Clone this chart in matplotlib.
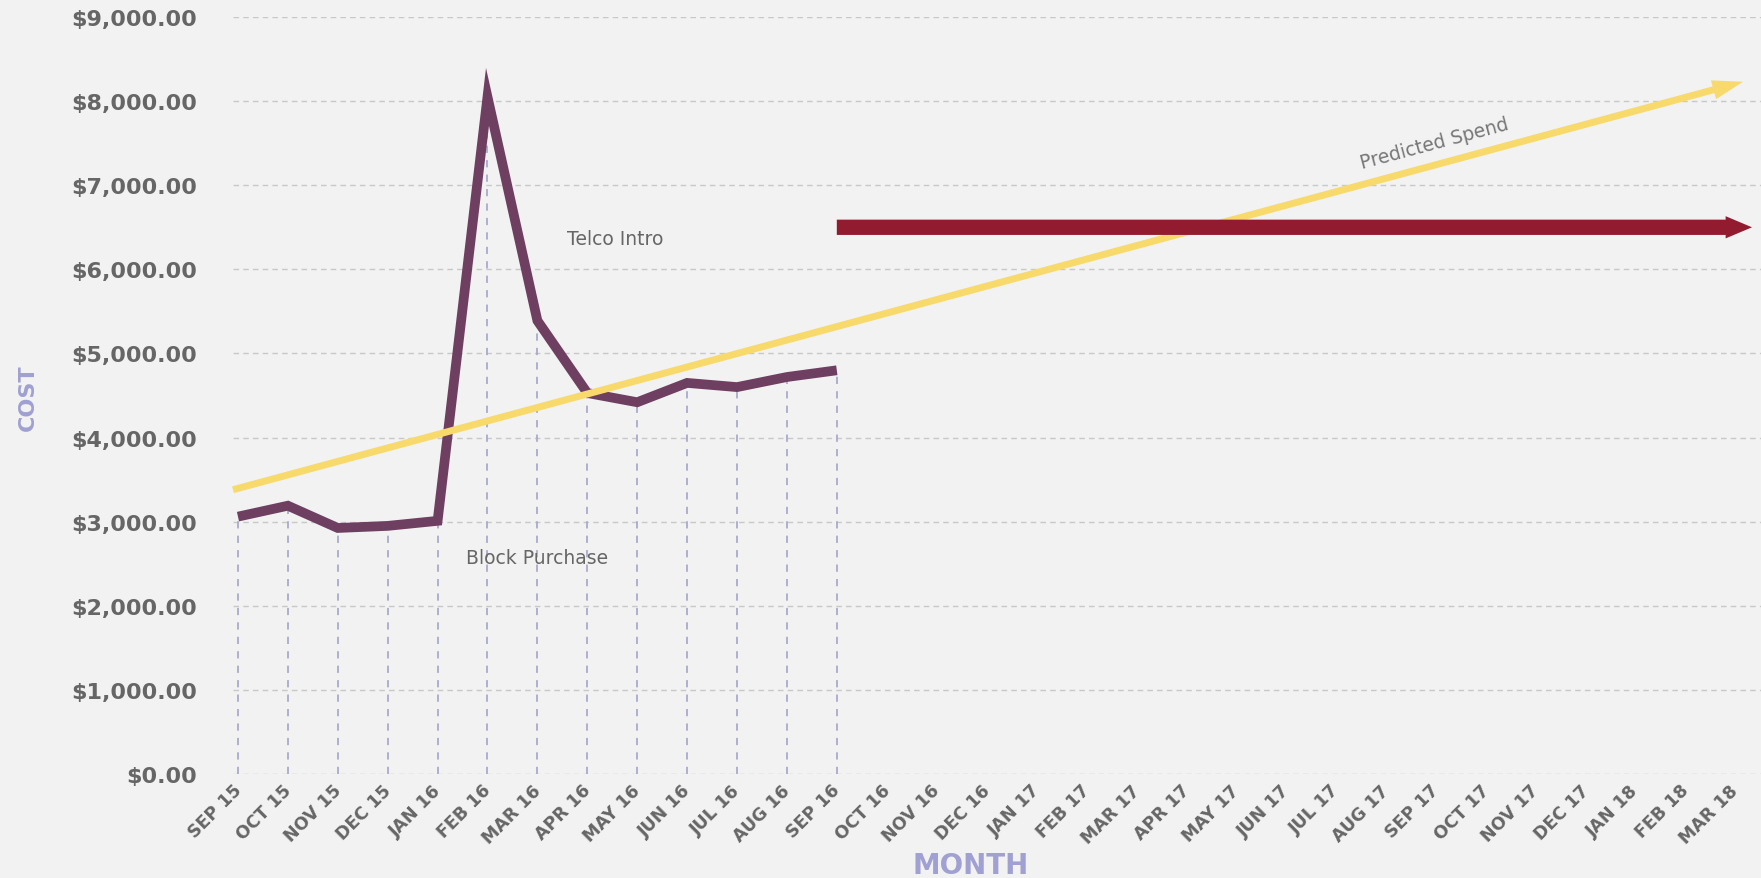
import matplotlib
matplotlib.use("Agg")
import matplotlib.pyplot as plt
import matplotlib.transforms as mtransforms
from matplotlib.ticker import FuncFormatter

# monthly cost, Sep 15 .. Sep 16
months = ["SEP 15", "OCT 15", "NOV 15", "DEC 15", "JAN 16", "FEB 16", "MAR 16",
          "APR 16", "MAY 16", "JUN 16", "JUL 16", "AUG 16", "SEP 16", "OCT 16",
          "NOV 16", "DEC 16", "JAN 17", "FEB 17", "MAR 17", "APR 17", "MAY 17",
          "JUN 17", "JUL 17", "AUG 17", "SEP 17", "OCT 17", "NOV 17", "DEC 17",
          "JAN 18", "FEB 18", "MAR 18"]
cost = [3060, 3190, 2925, 2950, 3010, 8050, 5390, 4530, 4420, 4650, 4600, 4720, 4800]

# predicted spend trend (start / end)
pred_x = [-0.1, 30.16]
pred_y = [3380, 8230]

# flat level after Sep 16
level_x = [12, 30.34]
level_y = [6500, 6500]

yticks = [0, 1000, 2000, 3000, 4000, 5000, 6000, 7000, 8000, 9000]

bg = "#f2f2f2"
purple = "#6f3f62"
yellow = "#f8d96c"
red = "#931b2f"
lavender = "#a0a0d2"
grey = "#666666"

fig = plt.figure(figsize=(17.61, 8.79), dpi=100, facecolor=bg)
ax = fig.add_axes([0.1323, 0.1183, 1 - 0.1323, 0.9795 - 0.1183])
ax.set_facecolor(bg)

x = list(range(len(cost)))

# drop lines under each point
ax.vlines(x, 0, cost, colors="#a9a9cc", linestyles=(0, (4, 4)), lw=1.3, zorder=2)

ax.plot(x, cost, color=purple, lw=7, solid_joinstyle="miter", solid_capstyle="butt",
        zorder=3, clip_on=False)

ax.annotate("", xy=(pred_x[1], pred_y[1]), xytext=(pred_x[0], pred_y[0]),
            arrowprops=dict(arrowstyle="simple,head_length=2.2,head_width=1.4,tail_width=0.5",
                            color=yellow, lw=0, shrinkA=0, shrinkB=0),
            zorder=4, annotation_clip=False)
ax.annotate("", xy=(level_x[1], level_y[1]), xytext=(level_x[0], level_y[0]),
            arrowprops=dict(arrowstyle="simple,head_length=1.9,head_width=1.6,tail_width=1.1",
                            color=red, lw=0, shrinkA=0, shrinkB=0),
            zorder=4, annotation_clip=False)

ax.text(7.56, 6370, "Telco Intro", fontsize=13.5, color=grey, ha="center", va="center")
ax.text(6.0, 2580, "Block Purchase", fontsize=13.5, color=grey, ha="center", va="center")
ax.text(23.97, 7500, "Predicted Spend", fontsize=13.5, color="#777777", ha="center",
        va="center", rotation=15, rotation_mode="anchor")

ax.set_xlim(-0.1, 30.52)
ax.set_ylim(0, 9000)
ax.set_yticks(yticks)
ax.yaxis.set_major_formatter(FuncFormatter(lambda v, p: "${:,.2f}".format(v)))
ax.set_xticks(range(len(months)))
ax.set_xticklabels(months, rotation=45, ha="right")

ax.tick_params(axis="y", length=0, pad=26, labelsize=16, labelcolor=grey)
ax.tick_params(axis="x", length=0, pad=5, labelsize=12.5, labelcolor=grey)
shift = mtransforms.ScaledTranslation(7 / 100, 0, fig.dpi_scale_trans)
for lbl in ax.get_xticklabels():
    lbl.set_transform(lbl.get_transform() + shift)
for lbl in ax.get_yticklabels() + ax.get_xticklabels():
    lbl.set_fontweight("bold")

ax.grid(axis="y", color="#c8c8c8", linestyle=(0, (4, 3)), lw=1)
ax.grid(axis="x", visible=False)
ax.set_axisbelow(True)
for s in ax.spines.values():
    s.set_visible(False)

fig.text(0.016, 0.547, "COST", rotation=90, fontsize=16, fontweight="bold",
         color=lavender, ha="center", va="center")
fig.text(0.551, 0.015, "MONTH", fontsize=20, fontweight="bold", color=lavender,
         ha="center", va="center")

fig.savefig("out.png", dpi=100, facecolor=bg)
